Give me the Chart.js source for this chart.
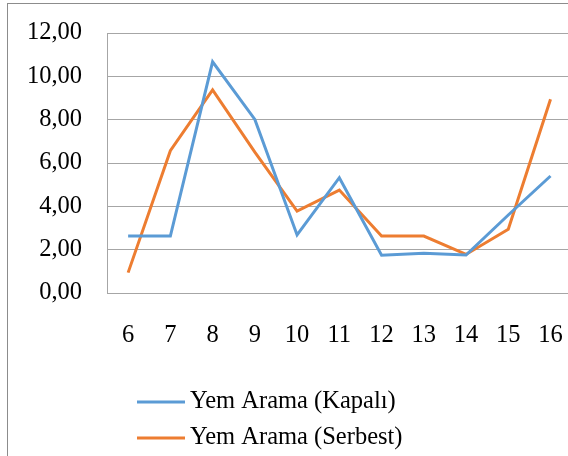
<!DOCTYPE html>
<html>
<head>
<meta charset="utf-8">
<script src="https://cdn.jsdelivr.net/npm/chart.js@4"></script>
<style>
  html, body { margin: 0; padding: 0; background: #fff; overflow: hidden; }
  #wrap { position: relative; width: 568px; height: 456px; overflow: hidden; }
  #frame { position: absolute; left: 7px; top: 3px; width: 700px; height: 600px;
           border-left: 1px solid #8c8c8c; border-top: 1px solid #8c8c8c; }
  #box { position: absolute; left: 0; top: 0; width: 591px; height: 456px; }
</style>
</head>
<body>
<div id="wrap">
  <div id="frame"></div>
  <div id="box"><canvas id="chart"></canvas></div>
</div>
<script>
const categories = ['6', '7', '8', '9', '10', '11', '12', '13', '14', '15', '16'];
const kapali = [2.63, 2.63, 10.67, 8.01, 2.68, 5.32, 1.74, 1.83, 1.75, 3.6, 5.4];
const serbest = [0.94, 6.57, 9.37, 6.5, 3.78, 4.75, 2.63, 2.63, 1.78, 2.94, 8.94];
const seriesNames = ['Yem Arama (Kapalı)', 'Yem Arama (Serbest)'];
const seriesColors = ['#5B9BD5', '#ED7D31'];

const FONT = { family: '"Liberation Serif", "Times New Roman", serif', size: 24.5 };

// legend stacked under the axis, drawn by hand
const sideLegend = {
  id: 'sideLegend',
  afterDraw(chart) {
    const { ctx } = chart;
    ctx.save();
    ctx.font = `${FONT.size}px ${FONT.family}`;
    ctx.textBaseline = 'middle';
    ctx.fillStyle = '#000';
    chart.data.datasets.forEach((ds, i) => {
      const y = 402 + i * 36;
      ctx.strokeStyle = ds.borderColor;
      ctx.lineWidth = 3;
      ctx.beginPath();
      ctx.moveTo(137, y);
      ctx.lineTo(185, y);
      ctx.stroke();
      ctx.fillText(ds.label, 190, y);
    });
    ctx.restore();
  }
};

new Chart(document.getElementById('chart'), {
  type: 'line',
  data: {
    labels: categories,
    datasets: [
      { label: seriesNames[0], data: kapali, borderColor: seriesColors[0], borderWidth: 3, pointRadius: 0, tension: 0 },
      { label: seriesNames[1], data: serbest, borderColor: seriesColors[1], borderWidth: 3, pointRadius: 0, tension: 0 }
    ]
  },
  plugins: [sideLegend],
  options: {
    responsive: true,
    maintainAspectRatio: false,
    animation: false,
    layout: { padding: { top: 33, left: 0, right: 5, bottom: 0 } },
    plugins: {
      legend: { display: false },
      tooltip: { enabled: false }
    },
    scales: {
      x: {
        offset: true,
        grid: { display: false, drawTicks: false },
        border: { display: false },
        ticks: { color: '#000', font: FONT, padding: 28, maxRotation: 0, autoSkip: false },
        afterFit: (scale) => { scale.height = 163; }
      },
      y: {
        min: 0,
        max: 12,
        grid: { color: '#a6a6a6', lineWidth: 1, drawTicks: false },
        border: { display: true, color: '#a6a6a6', width: 1 },
        ticks: {
          stepSize: 2,
          color: '#000',
          font: FONT,
          padding: 25,
          callback: (v) => v.toFixed(2).replace('.', ',')
        },
        afterFit: (scale) => {
          scale.width = 107;
          scale.paddingTop = 0;
          scale.paddingBottom = 0;
        }
      }
    }
  }
});
</script>
</body>
</html>
